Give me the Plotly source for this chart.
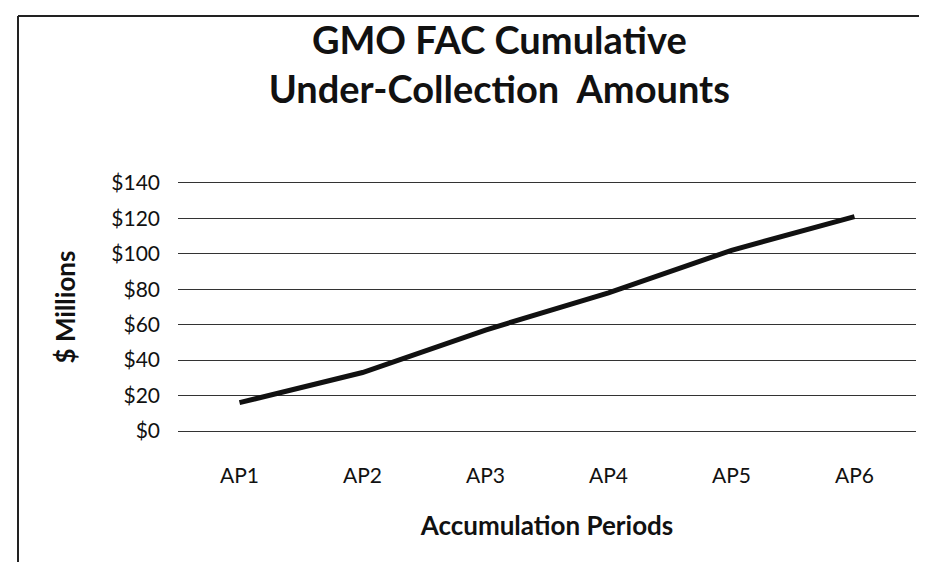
import plotly.graph_objects as go

periods = ["AP1", "AP2", "AP3", "AP4", "AP5", "AP6"]
amounts = [16, 33, 57, 78, 102, 121]
y_ticks = [0, 20, 40, 60, 80, 100, 120, 140]
y_tick_labels = ["$0", "$20", "$40", "$60", "$80", "$100", "$120", "$140"]

FONT = "Lato"
INK = "#111111"

fig = go.Figure()
fig.add_trace(go.Scatter(
    x=periods, y=amounts, mode="lines",
    line=dict(color=INK, width=5),
    showlegend=False,
))

L, R, T, B = 170, 19, 175, 139
W, H = 927, 562
pw, ph = W - L - R, H - T - B

fig.update_layout(
    width=W, height=H,
    paper_bgcolor="white", plot_bgcolor="white",
    margin=dict(l=L, r=R, t=T, b=B),
    title=dict(
        text="<b>GMO FAC Cumulative<br>Under-Collection  Amounts</b>",
        xref="container", x=0.53, xanchor="center",
        yref="container", y=1 - 46 / H, yanchor="top",
        font=dict(family=FONT, size=38, color=INK),
    ),
    font=dict(family=FONT, color=INK),
    xaxis=dict(
        range=[-0.5, 5.5],
        showgrid=False, showline=True, mirror=True, linecolor="#333333", linewidth=1,
        ticks="", ticklabelstandoff=26,
        tickfont=dict(size=21, color=INK),
        title=dict(text="<b>Accumulation Periods</b>", font=dict(size=26), standoff=30),
    ),
    yaxis=dict(
        range=[0, 140], tickvals=y_ticks, ticktext=y_tick_labels,
        showgrid=True, gridcolor="#333333", gridwidth=1,
        zeroline=False, showline=False, ticks="", ticklabelstandoff=17,
        tickfont=dict(size=21, color=INK),
        title=dict(text="<b>$ Millions</b>", font=dict(size=26), standoff=28),
    ),
    shapes=[
        dict(type="line", xref="paper", yref="paper",
             x0=(10 - L) / pw, x1=(W + 5 - L) / pw,
             y0=(H - B - 8) / ph, y1=(H - B - 8) / ph,
             line=dict(color="#222222", width=2)),
        dict(type="line", xref="paper", yref="paper",
             x0=(10 - L) / pw, x1=(10 - L) / pw,
             y0=(H - B - 8) / ph, y1=-(B + 5) / ph,
             line=dict(color="#222222", width=2)),
    ],
)

fig.write_html("out.html")
